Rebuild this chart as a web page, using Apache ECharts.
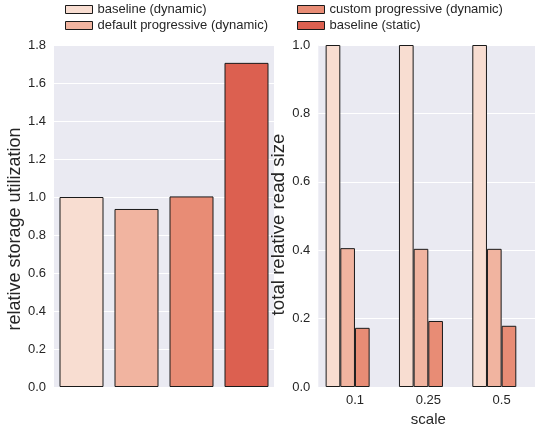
<!DOCTYPE html>
<html>
<head>
<meta charset="utf-8">
<script src="https://cdn.jsdelivr.net/npm/echarts@6/dist/echarts.min.js"></script>
<style>
html,body{margin:0;padding:0;background:#fff;}
#chart{width:535px;height:427px;}
</style>
</head>
<body>
<div id="chart"></div>
<script>
// ---- data ----
const hueNames = ['baseline (dynamic)', 'default progressive (dynamic)', 'custom progressive (dynamic)', 'baseline (static)'];
const hueColors = ['#F8DDD1', '#F1B4A0', '#E88C75', '#DC6050'];
const storageValues = [1.0, 0.937, 1.003, 1.706];
const scaleCategories = ['0.1', '0.25', '0.5'];
const readBaselineDyn = [1.0, 1.0, 1.0];
const readDefaultProg = [0.406, 0.404, 0.404];
const readCustomProg = [0.173, 0.193, 0.179];
const readBaselineStatic = [null, null, null];
const leftYTicks = {min: 0, max: 1.8, interval: 0.2};
const rightYTicks = {min: 0, max: 1.0, interval: 0.2};

const FONT = '"Liberation Sans", Arial, sans-serif';
const TXT = '#262626';
const EDGE = '#1a1a1a';

const chart = echarts.init(document.getElementById('chart'), null, {renderer: 'canvas'});

const gridCommon = {show: true, backgroundColor: '#EAEAF2', borderWidth: 0, top: 45, height: 342, width: 220, outerBoundsMode: 'none', containLabel: false};

const readSeriesData = [readBaselineDyn, readDefaultProg, readCustomProg, readBaselineStatic];

const legendCommon = {
  orient: 'vertical', top: 3, padding: 0,
  itemWidth: 27, itemHeight: 8, itemGap: 3, icon: 'rect',
  itemStyle: {borderColor: EDGE, borderWidth: 1},
  textStyle: {fontSize: 13, color: TXT, fontFamily: FONT},
  selectedMode: false
};

const option = {
  animation: false,
  textStyle: {fontFamily: FONT},
  legend: [
    Object.assign({data: hueNames.slice(0, 2), left: 65}, legendCommon),
    Object.assign({data: hueNames.slice(2, 4), left: 297}, legendCommon)
  ],
  grid: [
    Object.assign({left: 54}, gridCommon),
    Object.assign({left: 318.3}, gridCommon)
  ],
  xAxis: [
    {
      type: 'category', gridIndex: 0, data: hueNames,
      axisLine: {show: false}, axisTick: {show: false}, axisLabel: {show: false},
      splitLine: {show: false}
    },
    {
      type: 'category', gridIndex: 1, data: scaleCategories,
      axisLine: {show: false}, axisTick: {show: false},
      axisLabel: {fontSize: 13, color: TXT, margin: 7, fontFamily: FONT},
      splitLine: {show: false},
      name: 'scale', nameLocation: 'middle', nameGap: 24,
      nameTextStyle: {fontSize: 15, color: TXT, fontFamily: FONT}
    }
  ],
  yAxis: [
    {
      type: 'value', gridIndex: 0, min: leftYTicks.min, max: leftYTicks.max, interval: leftYTicks.interval,
      axisLine: {show: false}, axisTick: {show: false},
      axisLabel: {fontSize: 13, color: TXT, margin: 8, fontFamily: FONT, formatter: v => v.toFixed(1)},
      splitLine: {show: true, lineStyle: {color: '#FFFFFF', width: 1}},
      name: 'relative storage utilization', nameLocation: 'middle', nameGap: 27, nameRotate: 90,
      nameTextStyle: {fontSize: 18, color: TXT, fontFamily: FONT, padding: [0, 26, 0, 0]}
    },
    {
      type: 'value', gridIndex: 1, min: rightYTicks.min, max: rightYTicks.max, interval: rightYTicks.interval,
      axisLine: {show: false}, axisTick: {show: false},
      axisLabel: {fontSize: 13, color: TXT, margin: 8, fontFamily: FONT, formatter: v => v.toFixed(1)},
      splitLine: {show: true, lineStyle: {color: '#FFFFFF', width: 1}},
      name: 'total relative read size', nameLocation: 'middle', nameGap: 28, nameRotate: 90,
      nameTextStyle: {fontSize: 18.7, color: TXT, fontFamily: FONT, padding: [0, 17, 0, 0]}
    }
  ],
  series: [
    {
      type: 'bar', name: 'storage', xAxisIndex: 0, yAxisIndex: 0,
      barCategoryGap: '20%',
      data: storageValues.map((v, i) => ({value: v, itemStyle: {color: hueColors[i]}})),
      itemStyle: {borderColor: EDGE, borderWidth: 1}
    }
  ].concat(hueNames.map((n, i) => ({
    type: 'bar', name: n, xAxisIndex: 1, yAxisIndex: 1,
    barCategoryGap: '20%', barGap: '0%',
    data: readSeriesData[i],
    itemStyle: {color: hueColors[i], borderColor: EDGE, borderWidth: 1}
  })))
};
chart.setOption(option);
</script>
</body>
</html>
